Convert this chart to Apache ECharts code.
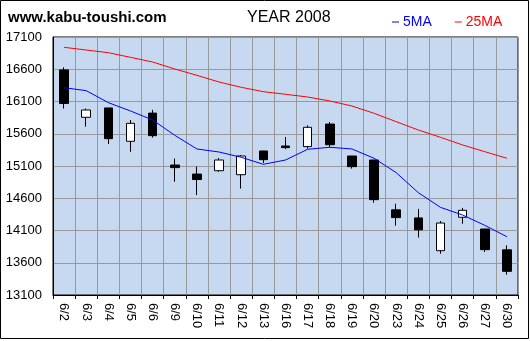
<!DOCTYPE html>
<html><head><meta charset="utf-8">
<script src="https://cdn.jsdelivr.net/npm/echarts@6/dist/echarts.min.js"></script>
<style>html,body{margin:0;padding:0;background:#fff;}#c{width:530px;height:341px;}</style>
</head><body><div id="c"></div>
<script>
const dates = ['6/2','6/3','6/4','6/5','6/6','6/9','6/10','6/11','6/12','6/13','6/16','6/17','6/18','6/19','6/20','6/23','6/24','6/25','6/26','6/27','6/30'];
const opens  = [16590,15855,16000,15483,15920,15115,14975,15027,14965,15333,15410,15400,15750,15255,15193,14420,14295,13787,14305,14123,13800];
const closes = [16070,15968,15524,15762,15570,15075,14890,15193,15255,15198,15385,15700,15430,15090,14578,14300,14110,14216,14413,13803,13467];
const lows   = [15990,15710,15440,15320,15540,14855,14650,15010,14750,15145,15360,15370,15390,15060,14530,14175,13990,13740,14205,13767,13415];
const highs  = [16630,15990,16000,15813,15970,15215,15090,15225,15270,15335,15550,15730,15780,15255,15195,14515,14435,14247,14450,14125,13870];
const ma5  = [16314,16268,16082,15953,15813,15576,15364,15317,15235,15126,15193,15359,15390,15364,15220,14997,14686,14459,14340,14180,14004];
const ma25 = [16940,16898,16857,16785,16712,16604,16506,16402,16320,16252,16212,16170,16108,16030,15917,15787,15658,15545,15426,15322,15220];
const yTicks = [13100,13600,14100,14600,15100,15600,16100,16600,17100];

const candles = dates.map((d,i)=>[opens[i],closes[i],lows[i],highs[i]]);
const chart = echarts.init(document.getElementById('c'), null, {renderer:'canvas'});
const font = 'Liberation Sans, Arial, sans-serif';
chart.setOption({
  animation:false,
  backgroundColor:'#ffffff',
  graphic:[
    {type:'rect', shape:{x:0.5,y:0.5,width:528,height:338}, style:{fill:'none',stroke:'#000',lineWidth:1}, z:100},
    {type:'text', left:8, top:10, style:{text:'www.kabu-toushi.com', font:'bold 15px Liberation Sans, Arial, sans-serif', fill:'#000'}},
    {type:'text', left:247, top:10, style:{text:'YEAR 2008', font:'16px '+font, fill:'#000'}}
  ],
  legend:{
    left:387, top:10, icon:'rect', itemWidth:7, itemHeight:1, itemGap:23,
    textStyle:{fontSize:14, fontFamily:font, padding:[0,0,0,-1]},
    data:[{name:'5MA', textStyle:{color:'#0000ff'}},{name:'25MA', textStyle:{color:'#ff0000'}}]
  },
  grid:{left:53, right:12, top:37, bottom:46, show:true, backgroundColor:'#c7d9f1', borderColor:'#000', borderWidth:1},
  xAxis:{
    type:'category', data:dates, boundaryGap:true,
    axisLine:{lineStyle:{color:'#000',width:1}},
    axisTick:{show:true, length:4, lineStyle:{color:'#000'}},
    splitLine:{show:true, interval:0, lineStyle:{color:'#999999',width:1}},
    axisLabel:{rotate:-90, interval:0, margin:8, color:'#000', fontSize:13, fontFamily:font}
  },
  yAxis:{
    type:'value', min:13100, max:17100,
    axisLine:{show:true, lineStyle:{color:'#000'}},
    axisTick:{show:false, customValues:yTicks},
    axisLabel:{customValues:yTicks, formatter:v=>String(v), color:'#000', fontSize:13, fontFamily:font, margin:11},
    splitLine:{show:true, lineStyle:{color:'#999999',width:1}}
  },
  series:[
    {type:'candlestick', name:'price', data:candles, barWidth:9,
     itemStyle:{color:'#ffffff', color0:'#000000', borderColor:'#000000', borderColor0:'#000000', borderWidth:1}},
    {type:'line', name:'5MA', data:ma5, symbol:'none', color:'#0000ff', lineStyle:{color:'#0000ff', width:1}},
    {type:'line', name:'25MA', data:ma25, symbol:'none', color:'#ff0000', lineStyle:{color:'#ff0000', width:1}}
  ]
});
</script></body></html>
